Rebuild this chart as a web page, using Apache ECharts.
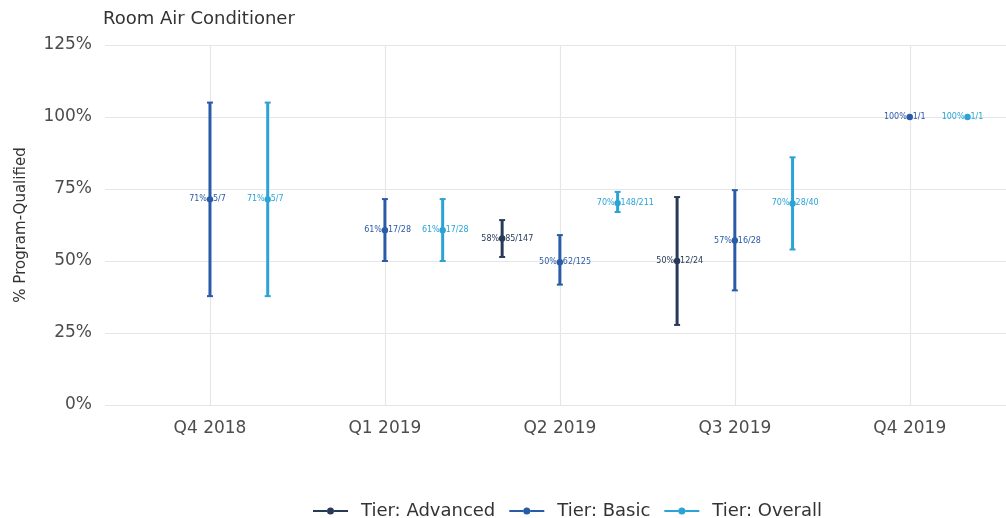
<!DOCTYPE html>
<html>
<head>
    <meta charset="utf-8">
    <title>Room Air Conditioner</title>
    <script src="https://cdn.jsdelivr.net/npm/echarts@6/dist/echarts.min.js"></script>
    <style>
        html, body { margin: 0; padding: 0; background: #fff; }
        #main { width: 1006px; height: 518px; }
    </style>
</head>
<body>
<div id="main"></div>
<script>
    // quarters on the x axis
    var quarters = ['Q4 2018', 'Q1 2019', 'Q2 2019', 'Q3 2019', 'Q4 2019'];
    var yTicks = [0, 25, 50, 75, 100, 125];

    // per tier: quarter index, rate %, lower %, upper %, label
    var advQ   = [2, 3];
    var advVal = [57.8, 50];
    var advLo  = [51.4, 27.8];
    var advHi  = [64.2, 72.2];
    var advLab = [['58%', '85/147'], ['50%', '12/24']];

    var basQ   = [0, 1, 2, 3, 4];
    var basVal = [71.4, 60.7, 49.6, 57.1, 100];
    var basLo  = [37.8, 50, 41.8, 39.8, 100];
    var basHi  = [105, 71.5, 59, 74.6, 100];
    var basLab = [['71%', '5/7'], ['61%', '17/28'], ['50%', '62/125'], ['57%', '16/28'], ['100%', '1/1']];

    var ovQ   = [0, 1, 2, 3, 4];
    var ovVal = [71.4, 60.7, 70.1, 70, 100];
    var ovLo  = [37.8, 50, 67, 54, 100];
    var ovHi  = [105, 71.5, 74, 86, 100];
    var ovLab = [['71%', '5/7'], ['61%', '17/28'], ['70%', '148/211'], ['70%', '28/40'], ['100%', '1/1']];

    var colAdv = '#283a58';
    var colBas = '#2a5ba8';
    var colOv = '#2ba3d6';
    var dodge = 0.33;
    var fam = 'Verdana, "DejaVu Sans", sans-serif';

    function rows(q, v, lo, hi) {
        var out = [];
        for (var i = 0; i < q.length; i++) out.push([q[i], v[i], lo[i], hi[i]]);
        return out;
    }

    function makeRender(off, color, labels) {
        return function (params, api) {
            var x = api.value(0) + off;
            var p = api.coord([x, api.value(1)]);
            var lo = api.coord([x, api.value(2)]);
            var hi = api.coord([x, api.value(3)]);
            var lab = labels[params.dataIndex];
            var kids = [];
            if (hi[1] < lo[1] - 1) {
                kids.push({type: 'line', shape: {x1: p[0], y1: lo[1], x2: p[0], y2: hi[1]},
                    style: {stroke: color, lineWidth: 3}});
                kids.push({type: 'line', shape: {x1: p[0] - 3, y1: lo[1], x2: p[0] + 3, y2: lo[1]},
                    style: {stroke: color, lineWidth: 2}});
                kids.push({type: 'line', shape: {x1: p[0] - 3, y1: hi[1], x2: p[0] + 3, y2: hi[1]},
                    style: {stroke: color, lineWidth: 2}});
            }
            kids.push({type: 'circle', shape: {cx: p[0], cy: p[1], r: 3.2}, style: {fill: color}});
            kids.push({type: 'text', x: p[0] - 3, y: p[1],
                style: {text: lab[0], fill: color, font: '8px ' + fam, align: 'right', verticalAlign: 'middle'}});
            kids.push({type: 'text', x: p[0] + 3, y: p[1],
                style: {text: lab[1], fill: color, font: '8px ' + fam, align: 'left', verticalAlign: 'middle'}});
            return {type: 'group', children: kids};
        };
    }

    var legendIcon = 'path://M0,3.2 L12,3.2 L12,4.8 L0,4.8 Z M18,3.2 L30,3.2 L30,4.8 L18,4.8 Z ' +
        'M12,4 A3,3 0 1,1 18,4 A3,3 0 1,1 12,4 Z';

    var myChart = echarts.init(document.getElementById('main'));
    var option = {
        animation: false,
        textStyle: {fontFamily: fam},
        title: {
            text: 'Room Air Conditioner',
            left: 98, top: 5,
            textStyle: {fontSize: 18, fontWeight: 'normal', color: '#333', fontFamily: fam}
        },
        legend: {
            top: 497, left: 308,
            itemWidth: 35, itemHeight: 8, itemGap: 14,
            textStyle: {fontSize: 18, color: '#333', fontFamily: fam, padding: [0, 0, 0, 8]},
            data: [
                {name: 'Tier: Advanced', icon: legendIcon},
                {name: 'Tier: Basic', icon: legendIcon},
                {name: 'Tier: Overall', icon: legendIcon}
            ]
        },
        grid: {left: 105, right: 0, top: 45, bottom: 113},
        xAxis: {
            type: 'value', min: -0.6, max: 4.55,
            axisLine: {show: false}, axisTick: {show: false}, splitLine: {show: false},
            axisLabel: {
                customValues: [0, 1, 2, 3, 4],
                formatter: function (v) { return quarters[Math.round(v)]; },
                fontSize: 17, color: '#4d4d4d', margin: 15, fontFamily: fam
            }
        },
        yAxis: {
            type: 'value', min: 0, max: 125, interval: 25,
            name: '% Program-Qualified', nameLocation: 'middle', nameGap: 76,
            nameTextStyle: {fontSize: 15, color: '#333', fontFamily: fam},
            axisLine: {show: false}, axisTick: {show: false},
            axisLabel: {formatter: '{value}%', fontSize: 17, color: '#4d4d4d', margin: 13, fontFamily: fam},
            splitLine: {lineStyle: {color: '#e6e6e6', width: 1.2}}
        },
        series: [
            {
                name: 'Tier: Advanced', type: 'custom', color: colAdv,
                data: rows(advQ, advVal, advLo, advHi),
                renderItem: makeRender(-dodge, colAdv, advLab),
                markLine: {
                    silent: true, symbol: 'none', label: {show: false}, z: 0,
                    lineStyle: {color: '#e6e6e6', width: 1.2, type: 'solid'},
                    data: quarters.map(function (q, i) { return {xAxis: i}; })
                }
            },
            {
                name: 'Tier: Basic', type: 'custom', color: colBas,
                data: rows(basQ, basVal, basLo, basHi),
                renderItem: makeRender(0, colBas, basLab)
            },
            {
                name: 'Tier: Overall', type: 'custom', color: colOv,
                data: rows(ovQ, ovVal, ovLo, ovHi),
                renderItem: makeRender(dodge, colOv, ovLab)
            }
        ]
    };
    myChart.setOption(option);
</script>
</body>
</html>
